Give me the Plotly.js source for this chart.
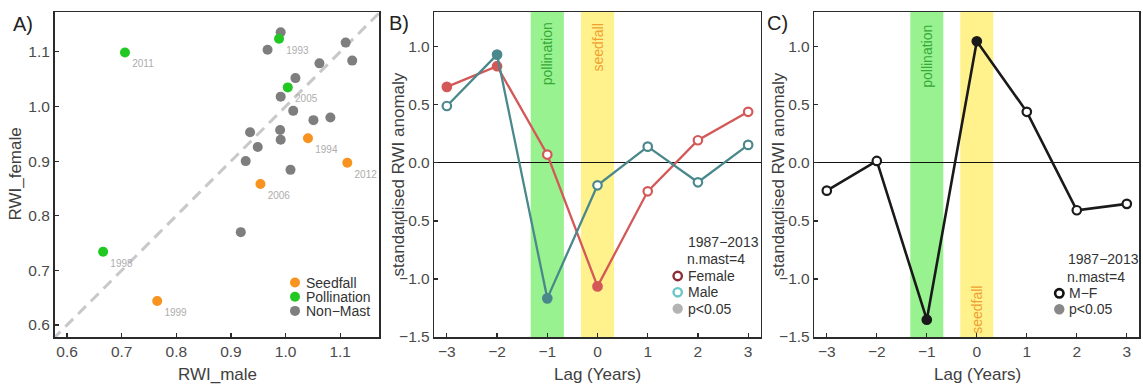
<!DOCTYPE html>
<html><head><meta charset="utf-8">
<script src="https://cdn.plot.ly/plotly-3.0.1.min.js"></script>
<style>html,body{margin:0;padding:0;background:#fff;}#chart{width:1143px;height:387px;}</style>
</head><body><div id="chart"></div>
<script>
// ---------- Panel A data ----------
const seedYears   = ['1994', '1999', '2006', '2012'];
const seedMale    = [1.041, 0.765, 0.954, 1.113];
const seedFemale  = [0.942, 0.644, 0.858, 0.897];
const pollYears   = ['1993', '1998', '2005', '2011'];
const pollMale    = [0.988, 0.666, 1.004, 0.706];
const pollFemale  = [1.124, 0.734, 1.035, 1.099];
const nonMale     = [0.991, 0.967, 1.110, 1.122, 1.062, 1.018, 0.991, 1.014, 1.051, 1.082, 0.935, 0.990, 0.991, 0.949, 0.927, 1.009, 0.918];
const nonFemale   = [1.136, 1.104, 1.117, 1.084, 1.079, 1.052, 1.018, 0.992, 0.975, 0.980, 0.953, 0.957, 0.939, 0.926, 0.900, 0.884, 0.770];
const rwiTicks    = [0.6, 0.7, 0.8, 0.9, 1.0, 1.1];
const groupNames  = ['Seedfall', 'Pollination', 'Non\u2212Mast'];

// ---------- Panel B / C data ----------
const lags        = [-3, -2, -1, 0, 1, 2, 3];
const femaleAnom  = [0.655, 0.833, 0.072, -1.064, -0.245, 0.195, 0.440];
const femaleSig   = [true, true, false, true, false, false, false];
const maleAnom    = [0.490, 0.933, -1.167, -0.193, 0.140, -0.167, 0.155];
const maleSig     = [false, true, true, false, false, false, false];
const diffAnom    = [-0.239, 0.017, -1.351, 1.048, 0.440, -0.408, -0.353];
const diffSig     = [false, false, true, true, false, false, false];
const anomTicks   = [-1.5, -1.0, -0.5, 0.0, 0.5, 1.0];
const pollinationLag = -1;
const seedfallLag    = 0;
const periodText  = '1987\u22122013';
const nMastText   = 'n.mast=4';

// ---------- styling ----------
const W = 1143, H = 387, MT = 12, MB = 50;
const FONT = 'Liberation Sans, Arial, Helvetica, sans-serif';
const cOrange = '#F7931E', cGreen = '#22C822', cGray = '#7E7E7E';
const cFemale = '#D45858', cMale = '#4A888C', cDiff = '#1A1A1A';
const px = p => p / W;                       // pixel -> paper x
const py = p => (H - MB - p) / (H - MT - MB); // pixel -> paper y

const xRangeA = [0.577, 1.171], yRangeA = [0.578, 1.173];
const lagRange = [-3.25, 3.25], anomRange = [-1.5, 1.3];

const traces = [];
// 1:1 reference line (spans axis range)
const lo = Math.min(xRangeA[0], yRangeA[0]) - 0.05, hi = Math.max(xRangeA[1], yRangeA[1]) + 0.05;
traces.push({x: [lo, hi], y: [lo, hi], xaxis: 'x', yaxis: 'y', mode: 'lines',
  line: {color: '#C8C8C8', width: 3, dash: '11px,7px'}, hoverinfo: 'skip', showlegend: false});
traces.push({x: nonMale, y: nonFemale, xaxis: 'x', yaxis: 'y', mode: 'markers',
  marker: {color: cGray, size: 10}, showlegend: false});
const lblFont = {family: FONT, size: 10, color: '#ADADAD'};
traces.push({x: seedMale, y: seedFemale, text: seedYears, xaxis: 'x', yaxis: 'y', mode: 'markers+text',
  textposition: 'bottom right', textfont: lblFont, cliponaxis: false,
  marker: {color: cOrange, size: 10}, showlegend: false});
traces.push({x: pollMale, y: pollFemale, text: pollYears, xaxis: 'x', yaxis: 'y', mode: 'markers+text',
  textposition: 'bottom right', textfont: lblFont, cliponaxis: false,
  marker: {color: cGreen, size: 10}, showlegend: false});

function lagTrace(vals, sig, color, axis, lw) {
  return {x: lags, y: vals, xaxis: 'x' + axis, yaxis: 'y' + axis, mode: 'lines+markers',
    line: {color: color, width: lw},
    marker: {size: 8.5, color: sig.map(s => s ? color : '#FFFFFF'), line: {color: color, width: 2.2}},
    cliponaxis: false, showlegend: false};
}
traces.push(lagTrace(femaleAnom, femaleSig, cFemale, 2, 2.3));
traces.push(lagTrace(maleAnom, maleSig, cMale, 2, 2.3));
traces.push(lagTrace(diffAnom, diffSig, cDiff, 3, 2.6));

const tickFont = {family: FONT, size: 15.5, color: '#4A4A4A'};
const axBase = {showgrid: false, zeroline: false, showline: true, mirror: true, linecolor: '#2B2B2B', linewidth: 1.5,
  ticks: 'inside', ticklen: 4, tickwidth: 1.2, tickcolor: '#2B2B2B', tickfont: tickFont, fixedrange: true};

const layout = {
  width: W, height: H, margin: {l: 0, r: 0, t: MT, b: MB},
  paper_bgcolor: '#FFFFFF', plot_bgcolor: '#FFFFFF', font: {family: FONT},
  showlegend: false,
  xaxis:  Object.assign({}, axBase, {domain: [px(54.5), px(379)], range: xRangeA, tickvals: rwiTicks, tickformat: '.1f', anchor: 'y'}),
  yaxis:  Object.assign({}, axBase, {domain: [0, 1], range: yRangeA, tickvals: rwiTicks, tickformat: '.1f', anchor: 'x'}),
  xaxis2: Object.assign({}, axBase, {domain: [px(434.3), px(760.7)], range: lagRange, tickvals: lags, anchor: 'y2'}),
  yaxis2: Object.assign({}, axBase, {domain: [0, 1], range: anomRange, tickvals: anomTicks, tickformat: '.1f', anchor: 'x2',
    zeroline: true, zerolinecolor: '#111111', zerolinewidth: 1.2}),
  xaxis3: Object.assign({}, axBase, {domain: [px(814.3), px(1139.3)], range: lagRange, tickvals: lags, anchor: 'y3'}),
  yaxis3: Object.assign({}, axBase, {domain: [0, 1], range: anomRange, tickvals: anomTicks, tickformat: '.1f', anchor: 'x3',
    zeroline: true, zerolinecolor: '#111111', zerolinewidth: 1.2}),
  shapes: [], annotations: []
};

// bands
const bandHalf = 0.33;
[2, 3].forEach(a => {
  layout.shapes.push({type: 'rect', xref: 'x' + a, yref: 'y' + a + ' domain', x0: pollinationLag - bandHalf, x1: pollinationLag + bandHalf,
    y0: 0, y1: 1, fillcolor: '#98F290', line: {width: 0}, layer: 'below'});
  layout.shapes.push({type: 'rect', xref: 'x' + a, yref: 'y' + a + ' domain', x0: seedfallLag - bandHalf, x1: seedfallLag + bandHalf,
    y0: 0, y1: 1, fillcolor: '#FFF28C', line: {width: 0}, layer: 'below'});
});

function ann(text, x, y, opts) {
  layout.annotations.push(Object.assign({text: text, x: x, y: y, xref: 'paper', yref: 'paper', showarrow: false,
    xanchor: 'center', yanchor: 'middle', font: {family: FONT, size: 14, color: '#333333'}}, opts || {}));
}
const bandFont = (c) => ({family: FONT, size: 14, color: c});
ann('pollination', pollinationLag, py(54), {xref: 'x2', textangle: -90, font: bandFont('#35A835')});
ann('seedfall', seedfallLag, py(48), {xref: 'x2', textangle: -90, font: bandFont('#F0A030')});
ann('pollination', pollinationLag, py(56), {xref: 'x3', textangle: -90, font: bandFont('#35A835')});
ann('seedfall', seedfallLag, py(310), {xref: 'x3', textangle: -90, font: bandFont('#F0A030')});

// panel labels
const panelFont = {family: FONT, size: 20, color: '#222222'};
ann('A)', px(23), py(24), {font: panelFont});
ann('B)', px(399), py(23), {font: panelFont});
ann('C)', px(777), py(23), {font: panelFont});

// axis titles
const titleFont = {family: FONT, size: 17, color: '#404040'};
ann('RWI_male', px(217), py(374), {font: titleFont});
ann('RWI_female', px(15), py(174.5), {font: titleFont, textangle: -90});
ann('Lag (Years)', px(597), py(374), {font: titleFont});
ann('Lag (Years)', px(977.5), py(374), {font: titleFont});
ann('standardised RWI anomaly', px(398), py(174.5), {font: titleFont, textangle: -90});
ann('standardised RWI anomaly', px(778), py(174.5), {font: titleFont, textangle: -90});

// legends
function dot(x, y, r, fill, lc, lw) {
  layout.shapes.push({type: 'circle', xref: 'paper', yref: 'paper', xsizemode: 'pixel', ysizemode: 'pixel',
    xanchor: px(x), yanchor: py(y), x0: -r, x1: r, y0: -r, y1: r, fillcolor: fill, line: {color: lc, width: lw}});
}
const legFont = {family: FONT, size: 14, color: '#333333'};
// A
[cOrange, cGreen, cGray].forEach((c, i) => {
  const y = 282.5 + i * 14.2;
  dot(295, y, 5, c, c, 0);
  ann(groupNames[i], px(304), py(y), {xanchor: 'left', font: legFont});
});
// B
ann(periodText, px(685.5), py(241.7), {xanchor: 'left', font: legFont});
ann(nMastText, px(685), py(259.3), {xanchor: 'left', font: legFont});
[['Female', '#FFFFFF', '#8B2E36', 2.4], ['Male', '#FFFFFF', '#6CC6C6', 2.4], ['p<0.05', '#B3B3B3', '#B3B3B3', 0]].forEach((it, i) => {
  const y = 276 + i * 16.3;
  dot(677.7, y, it[3] ? 4.2 : 5.2, it[1], it[2], it[3]);
  ann(it[0], px(686), py(y), {xanchor: 'left', font: legFont});
});
// C
ann(periodText, px(1065.5), py(259), {xanchor: 'left', font: legFont});
ann(nMastText, px(1065), py(276.7), {xanchor: 'left', font: legFont});
[['M\u2212F', '#FFFFFF', '#111111', 2.6], ['p<0.05', '#888888', '#888888', 0]].forEach((it, i) => {
  const y = 293.3 + i * 16;
  dot(1059.3, y, it[3] ? 4.2 : 5.2, it[1], it[2], it[3]);
  ann(it[0], px(1066.5), py(y), {xanchor: 'left', font: legFont});
});

Plotly.newPlot('chart', traces, layout, {displayModeBar: false, staticPlot: true});
</script></body></html>
